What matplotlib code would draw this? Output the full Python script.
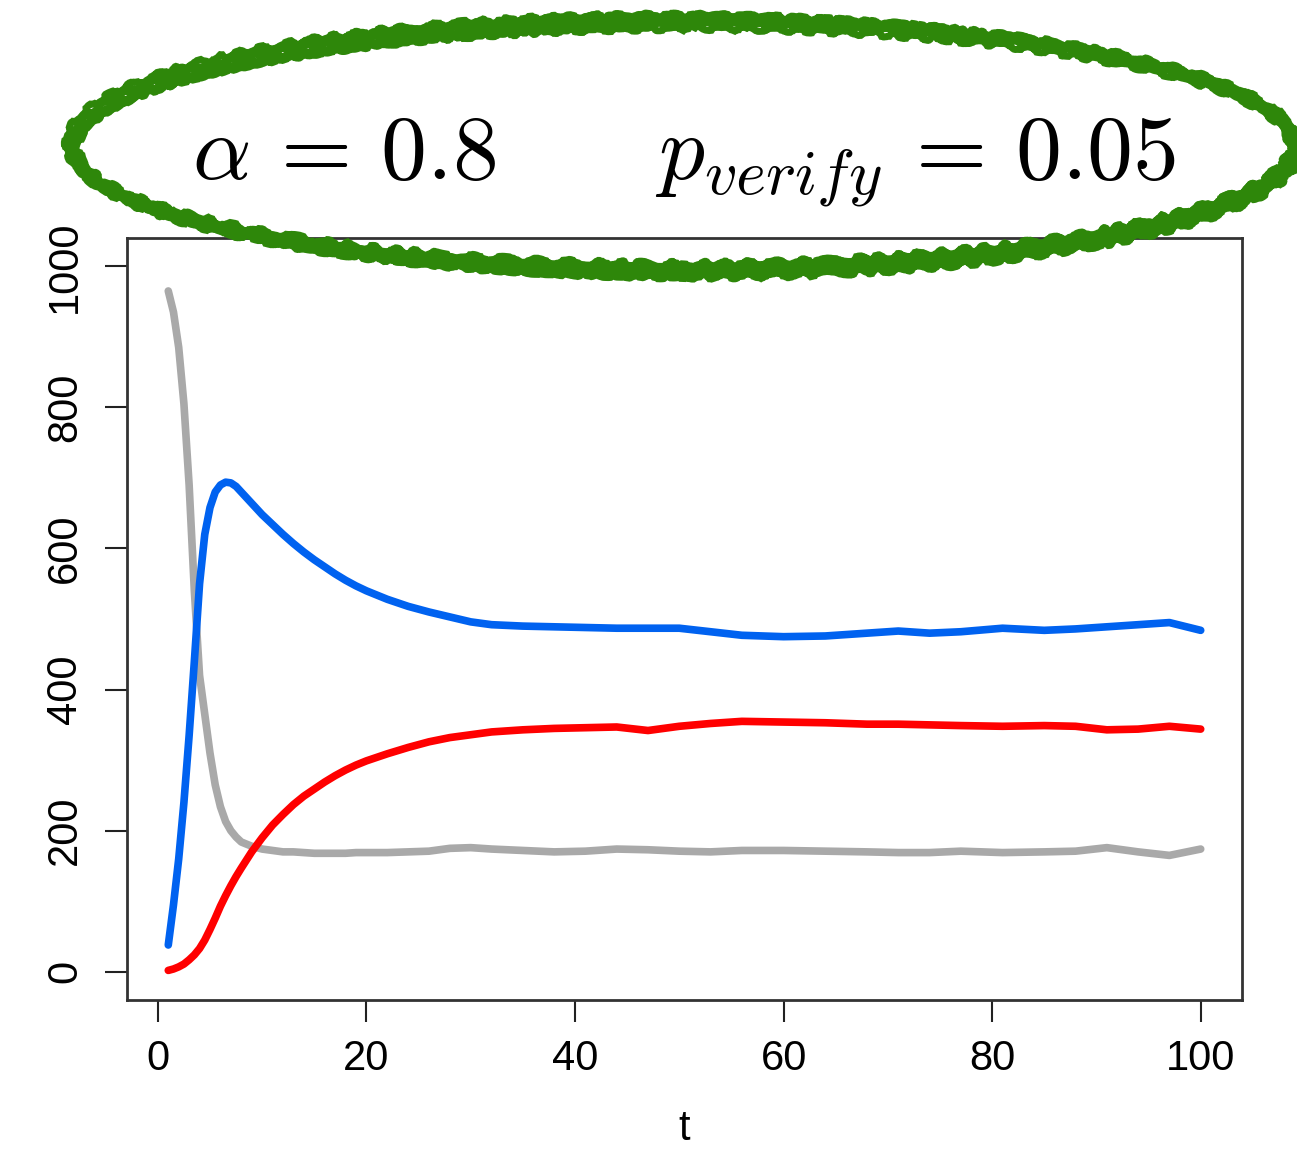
import numpy as np
import matplotlib.pyplot as plt
from matplotlib.patches import Ellipse

plt.rcParams['font.family'] = ['Liberation Sans', 'DejaVu Sans']
plt.rcParams['mathtext.fontset'] = 'cm'

# time steps (finer at the start where it moves fast)
t = [1, 1.5, 2, 2.5, 3, 3.5, 4, 4.5, 5, 5.5, 6, 6.5, 7, 7.5, 8, 9, 10, 11, 12,
     13, 14, 15, 16, 17, 18, 19, 20, 22, 24, 26, 28, 30, 32, 35, 38, 41, 44,
     47, 50, 53, 56, 60, 64, 68, 71, 74, 77, 81, 85, 88, 91, 94, 97, 100]

# gray curve (starts near 1000, drops fast)
gray_vals = [965, 935, 885, 805, 690, 540, 420, 365, 310, 265, 234, 213, 200,
             191, 184, 178, 174, 172, 170, 170, 169, 168, 168, 168, 168, 169,
             169, 169, 170, 171, 175, 176, 174, 172, 170, 171, 174, 173, 171,
             170, 172, 172, 171, 170, 169, 169, 171, 169, 170, 171, 176, 170,
             165, 174]

# blue curve (overshoot then settle ~485)
blue_vals = [38, 95, 160, 240, 335, 440, 550, 620, 658, 680, 690, 694, 693,
             688, 680, 664, 648, 634, 620, 607, 595, 584, 574, 564, 555, 547,
             540, 528, 518, 510, 503, 496, 492, 490, 489, 488, 487, 487, 487,
             482, 477, 475, 476, 480, 483, 480, 482, 487, 484, 486, 489, 492,
             495, 484]

# red curve (slow rise to ~350)
red_vals = [2, 4, 7, 11, 17, 24, 33, 45, 60, 76, 93, 108, 122, 135, 147, 170,
            190, 208, 223, 237, 249, 259, 269, 278, 286, 293, 299, 309, 318,
            326, 332, 336, 340, 343, 345, 346, 347, 342, 348, 352, 355, 354,
            353, 351, 351, 350, 349, 348, 349, 348, 343, 344, 348, 344]

xticks = [0, 20, 40, 60, 80, 100]
yticks = [0, 200, 400, 600, 800, 1000]

fig = plt.figure(figsize=(12.97, 11.5), dpi=100)
ax = fig.add_axes([0.0979, 0.1304, 0.8597, 0.6626])

ax.plot(t, gray_vals, color="#a9a9a9", linewidth=5.5, solid_capstyle="round", solid_joinstyle="round")
ax.plot(t, blue_vals, color="#0062f0", linewidth=5.5, solid_capstyle="round", solid_joinstyle="round")
ax.plot(t, red_vals, color="#ff0000", linewidth=5.5, solid_capstyle="round", solid_joinstyle="round")

ax.set_xlim(-2.96, 103.96)
ax.set_ylim(-40, 1040)
ax.set_xticks(xticks)
ax.set_yticks(yticks)
ax.tick_params(axis="both", direction="out", length=16, width=1.5, labelsize=30, color="#222222")
ax.tick_params(axis="x", pad=12)
ax.tick_params(axis="y", pad=14)
for lab in ax.get_yticklabels():
    lab.set_rotation(90)
    lab.set_va("center")
ax.set_xlabel("t", fontsize=30, labelpad=22)
for sp in ax.spines.values():
    sp.set_linewidth(2)
    sp.set_color("#333333")

# title in latex style
fig.text(0.527, 0.858, r"$\alpha \,=\, 0.8 \qquad p_{verify} \,=\, 0.05$",
         fontsize=66, ha="center", va="center")

# hand drawn green ring around the title
rings = [(0.948, 0.224, 0.0, 6), (0.940, 0.212, 0.3, 6), (0.944, 0.218, -0.2, 6),
         (0.934, 0.205, 0.1, 5), (0.951, 0.227, -0.4, 5), (0.942, 0.210, 0.5, 5)]
for w, h, ang, lw in rings:
    e = Ellipse((0.527, 0.873), w, h, angle=ang, transform=fig.transFigure,
                fill=False, edgecolor="#2e870a", linewidth=lw, zorder=10)
    e.set_sketch_params(scale=2.5, length=40, randomness=6)
    fig.add_artist(e)

plt.savefig("out.png", dpi=100)
